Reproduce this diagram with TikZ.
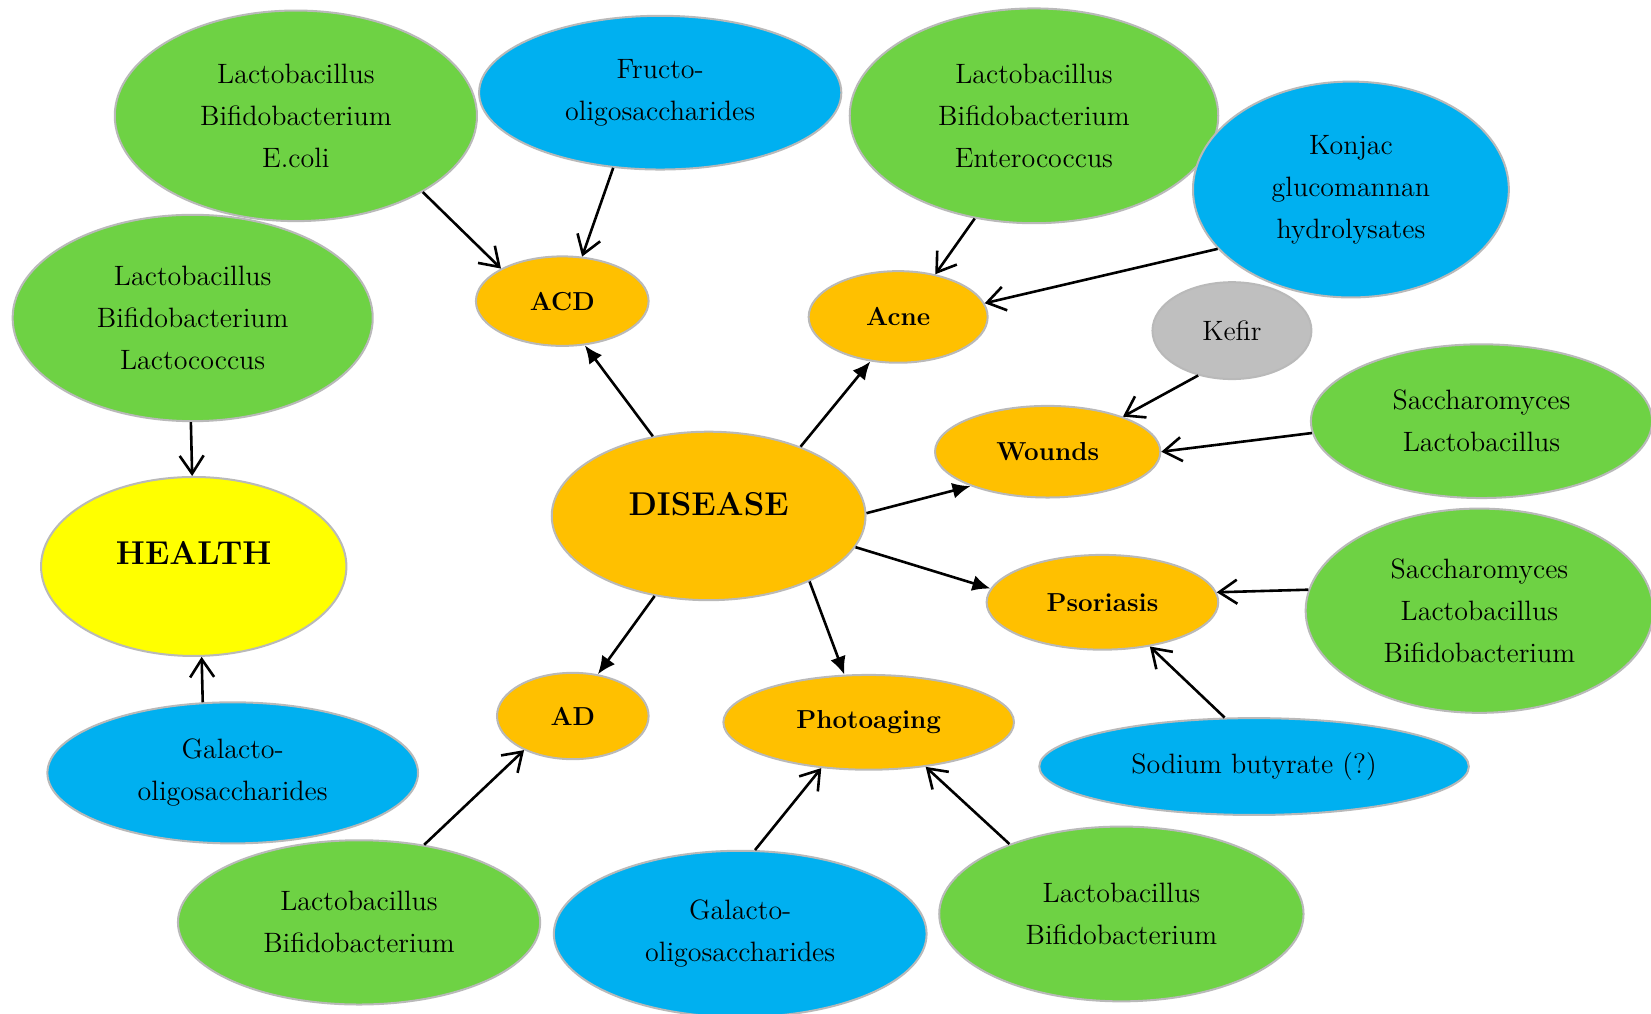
\documentclass[tikz,border=0pt]{standalone}
\usepackage{fontspec}
\usetikzlibrary{shapes.geometric,arrows.meta}
\definecolor{cgreen}{RGB}{110,210,68}
\definecolor{cblue}{RGB}{0,176,240}
\definecolor{corange}{RGB}{255,192,0}
\definecolor{cyellow}{RGB}{255,255,0}
\definecolor{cgray}{RGB}{191,191,191}
\definecolor{cborder}{RGB}{185,185,185}
\begin{document}
\begin{tikzpicture}[x=0.5265pt,y=-0.5265pt,
  font=\fontsize{14}{21}\selectfont,
  e/.style 2 args={ellipse,draw=cborder,line width=1pt,inner sep=0pt,
    minimum width=#1*0.5265pt,minimum height=#2*0.5265pt,align=center},
  pgreen/.style={fill=cgreen},
  pblue/.style={fill=cblue},
  pgray/.style={fill=cgray},
  sub/.style={fill=corange,font=\fontsize{13}{16}\selectfont\bfseries},
  big/.style={font=\fontsize{16.5}{20}\selectfont\bfseries},
  open/.style={-{Straight Barb[length=9pt,width=12pt]},line width=1.3pt},
  solid arrow/.style={-{Latex[length=9pt,width=8pt]},line width=1.3pt}]
\fill[white] (0,0) rectangle (1568,963);
\useasboundingbox (0,0) rectangle (1568,963);

% supplement nodes
\node[e={344}{200},pgreen] (g1) at (281,110) {Lactobacillus\\Bifidobacterium\\E.coli};
\node[e={344}{146},pblue] (fos) at (627,88) {Fructo-\\oligosaccharides};
\node[e={350}{204},pgreen] (g3) at (982,110) {Lactobacillus\\Bifidobacterium\\Enterococcus};
\node[e={300}{205},pblue] (konjac) at (1283,180) {Konjac\\glucomannan\\hydrolysates};
\node[e={342}{196},pgreen] (g5) at (183,302) {Lactobacillus\\Bifidobacterium\\Lactococcus};
\node[e={151}{92},pgray] (kefir) at (1170,314) {Kefir};
\node[e={324}{146},pgreen] (s2) at (1407,400) {Saccharomyces\\Lactobacillus};
\node[e={330}{194},pgreen] (s3) at (1405,580) {Saccharomyces\\Lactobacillus\\Bifidobacterium};
\node[e={352}{134},pblue] (gal1) at (221,734) {Galacto-\\oligosaccharides};
\node[e={408}{92},pblue] (sodium) at (1191,728) {Sodium butyrate (?)};
\node[e={344}{156},pgreen] (g19) at (341,876) {Lactobacillus\\Bifidobacterium};
\node[e={354}{158},pblue] (gal2) at (703,887) {Galacto-\\oligosaccharides};
\node[e={346}{166},pgreen] (g21) at (1065,868) {Lactobacillus\\Bifidobacterium};

% disease nodes
\node[e={298}{160},fill=corange,big] (disease) at (673,490) {\raisebox{0pt}[0pt][0pt]{DISEASE}};
\node[e={290}{170},fill=cyellow,big] (health) at (184,538) {\raisebox{1pt}[0pt][0pt]{HEALTH}};
\node[e={164}{85},sub] (acd) at (534,286) {ACD};
\node[e={170}{87},sub] (acne) at (853,301) {Acne};
\node[e={214}{87},sub] (wounds) at (995,429) {Wounds};
\node[e={220}{90},sub] (psor) at (1047,572) {Psoriasis};
\node[e={144}{82},sub] (ad) at (544,680) {AD};
\node[e={276}{90},sub] (photo) at (825,686) {Photoaging};

% supplement arrows
\draw[open] (g1.-31.2) -- (acd.152);
\draw[open] (fos.-122.4) -- (acd.66.2);
\draw[open] (g3.-120) -- (acne.49.3);
\draw[open] (konjac.204.9) -- (acne.9.1);
\draw[open] (kefir.-127.3) -- (wounds.25.6);
\draw[open] (s2.184) -- (wounds.0.5);
\draw[open] (s3.173.8) -- (psor.5.1);
\draw[open] (sodium.121.1) -- (psor.-43.8);
\draw[open] (g21.148.2) -- (photo.-38.7);
\draw[open] (gal2.80.9) -- (photo.-136.9);
\draw[open] (g19.50) -- (ad.-145.8);
\draw[open] (gal1.113.6) -- (health.-85.6);
\draw[open] (g5.-91) -- (health.91);

% disease arrows
\draw[solid arrow] (disease.125.7) -- (acd.-63.9);
\draw[solid arrow] (disease.37.4) -- (acne.-122.5);
\draw[solid arrow] (disease.1.2) -- (wounds.-156.1);
\draw[solid arrow] (disease.-12.4) -- (psor.173.4);
\draw[solid arrow] (disease.-33.7) -- (photo.117.5);
\draw[solid arrow] (disease.-124.5) -- (ad.59.4);
\end{tikzpicture}
\end{document}
